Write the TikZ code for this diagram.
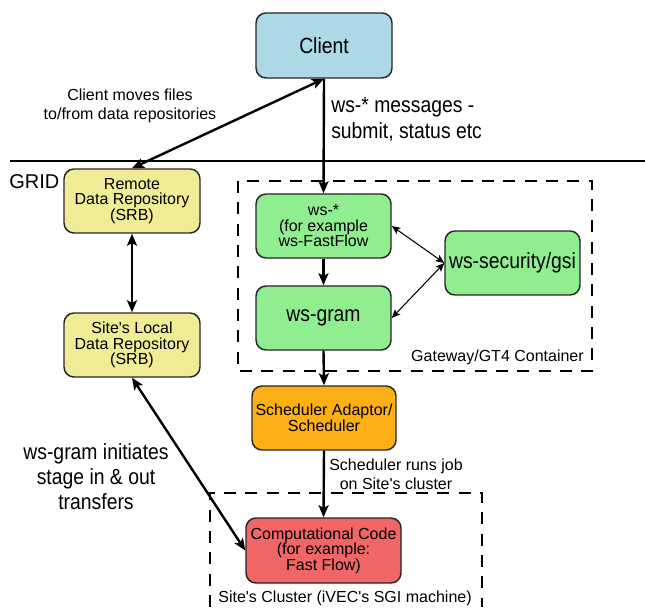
\documentclass[tikz,border=0pt]{standalone}
\usepackage{fontspec}
\setmainfont{Liberation Sans}
\newfontfamily\condfont{Liberation Sans}[FakeStretch=0.88]
\usetikzlibrary{arrows.meta}
\definecolor{cblue}{RGB}{173,216,230}
\definecolor{cyellow}{RGB}{240,236,150}
\definecolor{cgreen}{RGB}{144,238,144}
\definecolor{corange}{RGB}{252,176,22}
\definecolor{cred}{RGB}{240,102,102}
\newcommand{\aq}{\textquotesingle}
\begin{document}
\begin{tikzpicture}[x=0.75pt,y=-0.75pt,
  box/.style={draw=black!85, line width=1.1pt, rounded corners=7.5pt, align=center,
    inner sep=0pt, font=\fontsize{12}{11.6}\selectfont},
  bsize/.style 2 args={minimum width=#1*0.75pt, minimum height=#2*0.75pt},
  big/.style={font=\condfont\fontsize{16.5}{19.5}\selectfont},
  lbl/.style={inner sep=0pt, align=center},
  thickarrow/.style={line width=1.8pt, -{Stealth[length=9pt,width=7.5pt,inset=2pt]}},
  thickboth/.style={line width=1.8pt, {Stealth[length=9pt,width=7.5pt,inset=2pt]}-{Stealth[length=9pt,width=7.5pt,inset=2pt]}},
  thinboth/.style={line width=0.8pt, {Stealth[length=6.5pt,width=5.5pt,inset=1.5pt]}-{Stealth[length=6.5pt,width=5.5pt,inset=1.5pt]}},
  dashbox/.style={line width=1.1pt, dash pattern=on 9pt off 7pt}]
\useasboundingbox (0,0) rectangle (645,609);
\fill[white] (0,0) rectangle (645,609);

% separator line
\draw[line width=0.9pt] (10,161) -- (645,161);

% dashed containers
\draw[dashbox] (238,181) rectangle (592,371);
\draw[dashbox] (210,607) -- (210,493) -- (482,493) -- (482,607);

% nodes
\node[box, bsize={136}{65}, fill=cblue, big] (client) at (324,45.5) {Client};
\node[box, bsize={136}{64}, fill=cyellow] (remote) at (132,201) {Remote\\Data Repository\\(SRB)};
\node[box, bsize={136}{64}, fill=cyellow] (local) at (132,345) {Site\aq s Local\\Data Repository\\(SRB)};
\node[box, bsize={135}{64}, fill=cgreen] (wsstar) at (323.5,226) {ws-*\\(for example\\ws-FastFlow};
\node[box, bsize={135}{64}, fill=cgreen, big] (wsgram) at (323.5,318) {ws-gram};
\node[box, bsize={135}{64}, fill=cgreen, big] (security) at (512.5,263) {ws-security/gsi};
\node[box, bsize={144}{64}, fill=corange] (sched) at (324,418) {Scheduler Adaptor/\\Scheduler};
\node[box, bsize={155}{65}, fill=cred] (comp) at (323.5,550.5) {Computational Code\\(for example:\\Fast Flow)};

% labels
\node[lbl, font=\fontsize{12}{14.25}\selectfont] (lblclient) at (130,106) {Client moves files\\to/from data repositories};
\node[lbl, align=left, anchor=west, big] (lblmsg) at (331,119) {ws-* messages -\\submit, status etc};
\node[lbl, anchor=west, font=\fontsize{15}{18}\selectfont] (grid) at (9,182) {GRID};
\node[lbl, anchor=east, font=\fontsize{12}{14}\selectfont] (gateway) at (584,357) {Gateway/GT4 Container};
\node[lbl, font=\fontsize{12}{14.25}\selectfont] (lblsched) at (396,474.5) {Scheduler runs job\\on Site\aq s cluster};
\node[lbl, font=\condfont\fontsize{16.5}{18.75}\selectfont] (lblgram) at (96,477) {ws-gram initiates\\stage in \& out\\transfers};
\node[lbl, font=\fontsize{12}{14}\selectfont] (cluster) at (345,598) {Site\aq s Cluster (iVEC\aq s SGI machine)};

% connectors
\draw[thickboth] (client.south) -- (remote.north);
\draw[thickarrow] (client.south) -- (wsstar.north);
\draw[thickboth] (remote.south) -- (local.north);
\draw[thickarrow] (wsstar.south) -- (wsgram.north);
\draw[thinboth] (wsstar.east) -- (security.west);
\draw[thinboth] (wsgram.east) -- (security.west);
\draw[thickarrow] (wsgram.south) -- (sched.north);
\draw[thickarrow] (sched.south) -- (comp.north);
\draw[thickboth] (local.south) -- (comp.west);
\end{tikzpicture}
\end{document}
